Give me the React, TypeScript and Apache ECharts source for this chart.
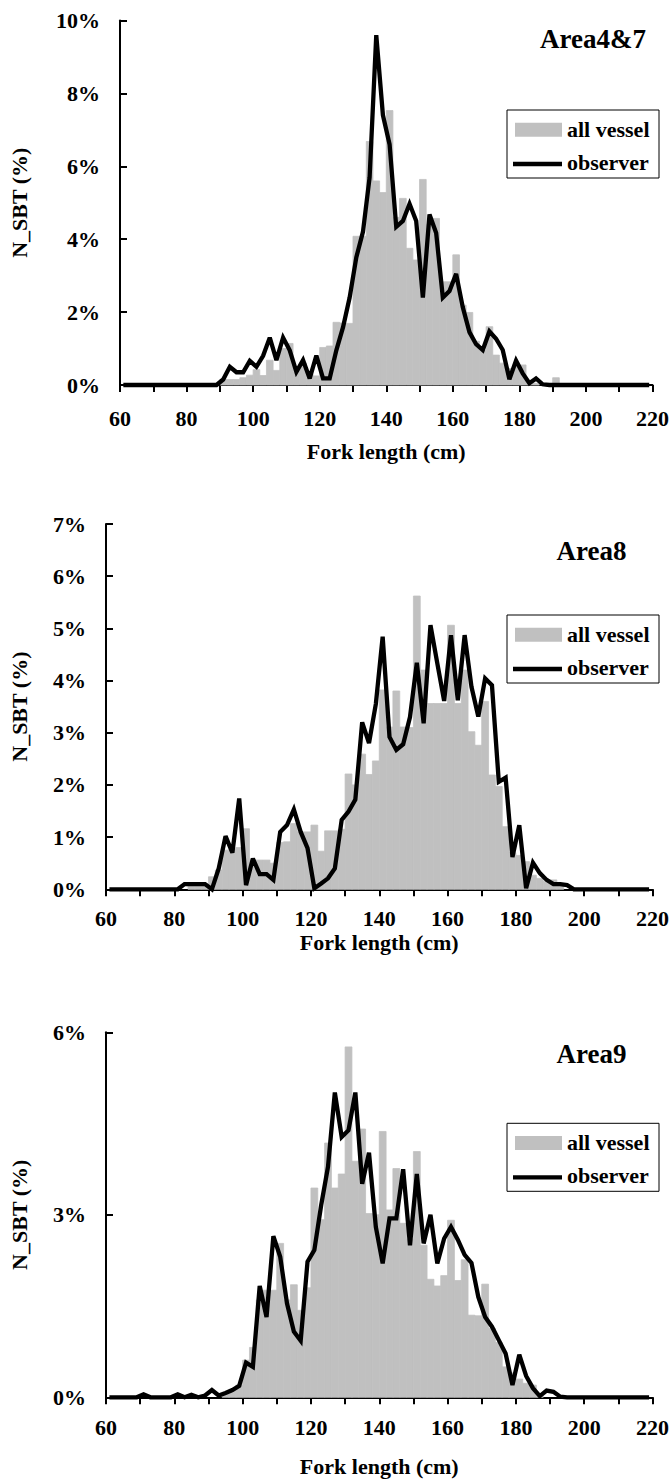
import React, { useEffect, useRef } from "react";
import * as echarts from "echarts";

// Fork length bin centres (cm), 2 cm bins
const binCenters = [
  61, 63, 65, 67, 69, 71, 73, 75, 77, 79,
  81, 83, 85, 87, 89, 91, 93, 95, 97, 99,
  101, 103, 105, 107, 109, 111, 113, 115, 117, 119,
  121, 123, 125, 127, 129, 131, 133, 135, 137, 139,
  141, 143, 145, 147, 149, 151, 153, 155, 157, 159,
  161, 163, 165, 167, 169, 171, 173, 175, 177, 179,
  181, 183, 185, 187, 189, 191, 193, 195, 197, 199,
  201, 203, 205, 207, 209, 211, 213, 215, 217, 219,
];

// Area4&7
const area47AllVessel = [
  0, 0, 0, 0, 0, 0, 0, 0, 0, 0,
  0, 0, 0, 0, 0, 0.15, 0.15, 0.15, 0.2, 0.27,
  0.42, 0.26, 0.68, 0.4, 1.0, 1.14, 0.45, 0.6, 0.3, 0.25,
  1.03, 1.07, 1.72, 1.7, 1.69, 4.08, 4.08, 6.68, 5.6, 5.28,
  7.53, 4.6, 5.12, 3.75, 3.43, 5.64, 4.4, 4.57, 2.83, 2.83,
  3.57, 2.19, 1.99, 1.2, 0.95, 1.6, 0.82, 0.6, 0.45, 0.55,
  0.55, 0.1, 0.05, 0, 0, 0.2, 0, 0, 0, 0,
  0, 0, 0, 0, 0, 0, 0, 0, 0, 0,
];
const area47Observer = [
  0, 0, 0, 0, 0, 0, 0, 0, 0, 0,
  0, 0, 0, 0, 0, 0.15, 0.5, 0.35, 0.35, 0.66,
  0.5, 0.8, 1.3, 0.68, 1.3, 0.95, 0.36, 0.68, 0.18, 0.81,
  0.18, 0.18, 0.95, 1.58, 2.4, 3.5, 4.2, 5.7, 9.6, 7.4,
  6.6, 4.34, 4.5, 4.97, 4.5, 2.4, 4.68, 4.17, 2.4, 2.58,
  3.05, 2.13, 1.45, 1.12, 0.96, 1.47, 1.27, 0.96, 0.16, 0.67,
  0.32, 0.05, 0.18, 0.02, 0, 0, 0, 0, 0, 0,
  0, 0, 0, 0, 0, 0, 0, 0, 0, 0,
];

// Area8
const area8AllVessel = [
  0, 0, 0, 0, 0, 0, 0, 0, 0, 0,
  0, 0, 0.1, 0.1, 0.1, 0.24, 0.37, 0.75, 0.77, 0.8,
  1.16, 0.56, 0.56, 0.56, 0.5, 0.9, 0.91, 1.26, 1.1, 1.1,
  1.23, 0.73, 1.12, 1.12, 1.15, 2.21, 2.0, 2.59, 2.2, 2.46,
  3.82, 3.11, 3.8, 3.11, 3.1, 5.62, 4.2, 3.56, 3.56, 3.56,
  5.06, 3.56, 4.2, 3.02, 2.76, 3.6, 2.19, 1.97, 1.2, 0.7,
  0.65, 0.53, 0.27, 0.21, 0.15, 0.18, 0.1, 0, 0, 0,
  0, 0, 0, 0, 0, 0, 0, 0, 0, 0,
];
const area8Observer = [
  0, 0, 0, 0, 0, 0, 0, 0, 0, 0,
  0, 0.1, 0.1, 0.1, 0.1, 0, 0.4, 1.02, 0.7, 1.74,
  0.08, 0.59, 0.29, 0.29, 0.18, 1.1, 1.23, 1.53, 1.1, 0.79,
  0.02, 0.11, 0.21, 0.4, 1.33, 1.49, 1.72, 3.2, 2.8, 3.55,
  4.84, 2.92, 2.67, 2.78, 3.3, 4.34, 3.18, 5.06, 4.33, 3.61,
  4.87, 3.62, 4.87, 3.88, 3.31, 4.04, 3.91, 2.06, 2.14, 0.62,
  1.23, 0.02, 0.51, 0.31, 0.18, 0.1, 0.1, 0.08, 0, 0,
  0, 0, 0, 0, 0, 0, 0, 0, 0, 0,
];

// Area9
const area9AllVessel = [
  0, 0, 0, 0, 0, 0, 0, 0, 0, 0,
  0, 0, 0, 0, 0, 0, 0, 0.08, 0.13, 0.2,
  0.61, 0.82, 1.6, 1.76, 1.76, 2.53, 1.6, 1.85, 1.43, 1.8,
  3.44, 2.92, 4.18, 3.44, 3.67, 5.76, 3.88, 4.41, 3.02, 3.0,
  4.37, 3.08, 3.76, 2.86, 2.6, 4.04, 2.5, 1.94, 1.83, 2.0,
  2.91, 1.92, 2.26, 1.35, 1.34, 1.86, 1.13, 0.9, 0.5, 0.4,
  0.3, 0.23, 0.2, 0.02, 0, 0, 0, 0, 0, 0,
  0, 0, 0, 0, 0, 0, 0, 0, 0, 0,
];
const area9Observer = [
  0, 0, 0, 0, 0, 0.05, 0, 0, 0, 0,
  0.05, 0, 0.04, 0, 0.03, 0.12, 0.03, 0.07, 0.12, 0.19,
  0.57, 0.5, 1.83, 1.32, 2.65, 2.31, 1.54, 1.08, 0.93, 2.23,
  2.42, 3.16, 3.79, 5.01, 4.28, 4.39, 5.01, 3.51, 4.02, 2.8,
  2.2, 2.94, 2.94, 3.75, 2.5, 3.67, 2.53, 3.0, 2.2, 2.61,
  2.8, 2.59, 2.34, 2.21, 1.65, 1.32, 1.16, 0.94, 0.72, 0.2,
  0.7, 0.35, 0.15, 0.02, 0.11, 0.09, 0.01, 0, 0, 0,
  0, 0, 0, 0, 0, 0, 0, 0, 0, 0,
];

const panelTitles = ["Area4&7", "Area8", "Area9"];
const yMaxes = [10, 7, 6];
const yIntervals = [2, 1, 3];
const xMin = 60;
const xMax = 220;
const xInterval = 10;
const xLabelStep = 20;
const xTitle = "Fork length (cm)";
const yTitle = "N_SBT (%)";
const legendNames = ["all vessel", "observer"];

const FONT = "'Liberation Serif', 'Times New Roman', serif";
const BAR = "#c0c0c0";

export default function App() {
  const ref = useRef<HTMLDivElement>(null);

  useEffect(() => {
    document.body.style.margin = "0";
    if (!ref.current) return;
    const chart = echarts.init(ref.current, null, { renderer: "svg" });

    const allVessel = [area47AllVessel, area8AllVessel, area9AllVessel];
    const observer = [area47Observer, area8Observer, area9Observer];

    const grids = [
      { left: 108, top: 20.5, width: 544.6, height: 364.5 },
      { left: 94, top: 524, width: 558.5, height: 365.3 },
      { left: 94, top: 1032.3, width: 558.5, height: 365 },
    ];
    const xLabelMargins = [22, 18, 19];
    const xNameGaps = [55, 42, 58];
    const yNameGaps = [90, 76, 76];

    const textStyle = { color: "#000", fontWeight: "bold" as const, fontFamily: FONT };

    const xAxes = grids.map((_, i) => ({
      type: "value",
      gridIndex: i,
      min: xMin,
      max: xMax,
      interval: xInterval,
      axisLine: { show: true, lineStyle: { color: "#000", width: 2 } },
      axisTick: { show: true, inside: false, length: 7, lineStyle: { color: "#000", width: 2 } },
      axisLabel: {
        ...textStyle,
        fontSize: 22,
        margin: xLabelMargins[i],
        formatter: (v: number) => (v % xLabelStep === 0 ? String(v) : ""),
      },
      splitLine: { show: false },
      name: xTitle,
      nameLocation: "middle",
      nameGap: xNameGaps[i],
      nameTextStyle: { ...textStyle, fontSize: 22 },
    }));

    const yAxes = grids.map((_, i) => ({
      type: "value",
      gridIndex: i,
      min: 0,
      max: yMaxes[i],
      interval: yIntervals[i],
      axisLine: { show: true, lineStyle: { color: "#000", width: 2 } },
      axisTick: { show: true, inside: true, length: 7, lineStyle: { color: "#000", width: 2 } },
      axisLabel: { ...textStyle, fontSize: 22, margin: 20, formatter: "{value}%" },
      splitLine: { show: false },
      name: yTitle,
      nameLocation: "middle",
      nameGap: yNameGaps[i],
      nameRotate: 90,
      nameTextStyle: { ...textStyle, fontSize: 22 },
    }));

    const series: any[] = [];
    grids.forEach((_, i) => {
      series.push({
        type: "custom",
        name: legendNames[0],
        xAxisIndex: i,
        yAxisIndex: i,
        data: binCenters.map((v, k) => [v, allVessel[i][k]]),
        encode: { x: 0, y: 1 },
        renderItem: (params: any, api: any) => {
          const v = api.value(0);
          const h = api.value(1);
          if (!h) return null;
          const p0 = api.coord([v - 1, h]);
          const p1 = api.coord([v + 1, 0]);
          return {
            type: "rect",
            shape: { x: p0[0], y: p0[1], width: p1[0] - p0[0], height: p1[1] - p0[1] },
            style: { fill: BAR, stroke: BAR, lineWidth: 0.8 },
          };
        },
        z: 1,
      });
      series.push({
        type: "line",
        name: legendNames[1],
        xAxisIndex: i,
        yAxisIndex: i,
        data: binCenters.map((v, k) => [v, observer[i][k]]),
        symbol: "none",
        clip: false,
        lineStyle: { color: "#000", width: 4.3, join: "miter", miterLimit: 3 },
        z: 3,
      });
    });

    const legendTops = [110, 615, 1123.3];
    const titleYs = [38.5, 550.5, 1053.5];
    const titleXs = [593, 591.5, 591.5];

    const graphic: any[] = [];
    grids.forEach((_, i) => {
      graphic.push({
        type: "text",
        x: titleXs[i],
        y: titleYs[i],
        style: {
          text: panelTitles[i],
          fill: "#000",
          font: `bold 27px ${FONT}`,
          textAlign: "center",
          textVerticalAlign: "middle",
        },
      });
      const t = legendTops[i];
      graphic.push({
        type: "group",
        x: 507,
        y: t,
        children: [
          {
            type: "rect",
            shape: { x: 0, y: 0, width: 152, height: 68 },
            style: { fill: "#fff", stroke: "#000", lineWidth: 1 },
          },
          {
            type: "rect",
            shape: { x: 8, y: 12.7, width: 47, height: 14 },
            style: { fill: BAR },
          },
          {
            type: "text",
            x: 60,
            y: 19,
            style: {
              text: legendNames[0],
              fill: "#000",
              font: `bold 22px ${FONT}`,
              textAlign: "left",
              textVerticalAlign: "middle",
            },
          },
          {
            type: "line",
            shape: { x1: 6, y1: 54, x2: 55, y2: 54 },
            style: { stroke: "#000", lineWidth: 4.3 },
          },
          {
            type: "text",
            x: 60,
            y: 52,
            style: {
              text: legendNames[1],
              fill: "#000",
              font: `bold 22px ${FONT}`,
              textAlign: "left",
              textVerticalAlign: "middle",
            },
          },
        ],
      });
    });

    chart.setOption({
      animation: false,
      backgroundColor: "#fff",
      grid: grids,
      xAxis: xAxes,
      yAxis: yAxes,
      series,
      graphic,
    });

    return () => chart.dispose();
  }, []);

  return <div ref={ref} style={{ width: 672, height: 1483 }} />;
}
